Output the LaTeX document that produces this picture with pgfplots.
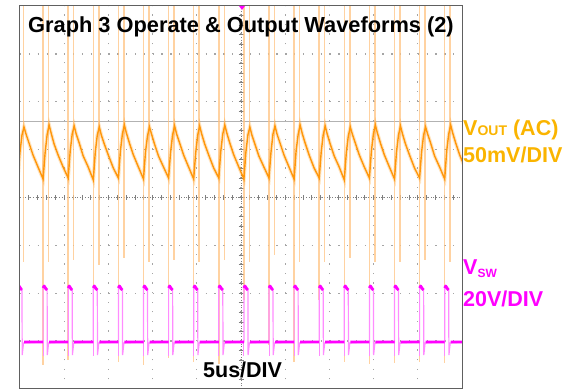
\documentclass[border=0pt]{standalone}
\usepackage{pgfplots}
\pgfplotsset{compat=1.18}
\usepackage{fontspec}
\setmainfont{Liberation Sans}
\definecolor{vout}{RGB}{255,150,10}
\definecolor{spike}{RGB}{255,195,130}
\definecolor{voutlbl}{RGB}{250,180,0}
\definecolor{vsw}{RGB}{255,0,255}
\definecolor{vswfaint}{RGB}{255,140,255}
\definecolor{gridc}{RGB}{165,165,165}
\begin{document}
\begin{tikzpicture}[x=1pt,y=1pt]
\useasboundingbox (-20,-1) rectangle (559,389);
% graticule (behind traces)
\foreach \k in {1,...,9}{
  \draw[gridc, line width=1.3pt, dash pattern=on 1.3pt off 8.275pt] (44.2*\k,0) -- (44.2*\k,383);
}
\foreach \j in {1,...,7}{
  \draw[gridc, line width=1.3pt, dash pattern=on 1.3pt off 7.54pt] (0,47.875*\j) -- (442,47.875*\j);
}
\draw[gray, line width=0.6pt, dash pattern=on 1pt off 1.6pt] (221,0) -- (221,383);
\draw[gray, line width=0.6pt, dash pattern=on 1pt off 1.6pt] (0,191.5) -- (442,191.5);
\foreach \i in {1,...,49}{ \draw[gray, line width=0.7pt] (8.84*\i,189) -- (8.84*\i,194); }
\foreach \i in {1,...,39}{ \draw[gray, line width=0.7pt] (218.5,9.575*\i) -- (223.5,9.575*\i); }
\draw[gray!60, line width=0.7pt] (0,267.5) -- (442,267.5);

\begin{axis}[at={(0,0)}, anchor=south west, scale only axis,
  width=442pt, height=383pt,
  xmin=20, xmax=462, ymin=6, ymax=389, y dir=reverse,
  axis line style={draw=none}, ticks=none, clip=true]
% switching spikes on the output trace
\addplot[ycomb, spike, line width=1.5pt, opacity=0.75, mark=none] coordinates {
 (18.0,360) (43.1,365) (68.2,360) (93.3,350) (118.4,362) (143.5,365) (168.6,358) (193.7,362) (218.8,364)
 (243.9,300) (269.0,345) (294.1,362) (319.2,300) (344.3,362) (369.4,364) (394.5,363) (419.6,362) (444.7,363)};
\addplot[ycomb, spike, line width=1.5pt, opacity=0.75, mark=none] coordinates {
 (23.5,262) (48.6,262) (73.7,260) (98.8,265) (123.9,258) (149.0,262) (174.1,260) (199.2,262) (224.3,260)
 (249.4,262) (274.5,255) (299.6,262) (324.7,262) (349.8,258) (374.9,262) (400.0,262) (425.1,260) (450.2,262)};
% VOUT (AC) ripple, halo and trace
\pgfplotstableread{
x y
10 161
18.0 178
20 152
22 135
24 127
26 134
29 143
33 155
38 167
43.1 179
45.1 153
47.1 135
49.1 125
51.1 133
54.1 144
58.1 155
63.1 167
68.2 178
70.2 151
72.2 134
74.2 126
76.2 134
79.2 143
83.2 156
88.2 167
93.3 180
95.3 152
97.3 135
99.3 127
101.3 135
104.3 144
108.3 155
113.3 168
118.4 178
120.4 151
122.4 134
124.4 125
126.4 133
129.4 143
133.4 155
138.4 167
143.5 179
145.5 152
147.5 136
149.5 127
151.5 134
154.5 144
158.5 156
163.5 167
168.6 178
170.6 152
172.6 135
174.6 126
176.6 134
179.6 143
183.6 155
188.6 167
193.7 179
195.7 153
197.7 135
199.7 126
201.7 134
204.7 144
208.7 155
213.7 168
218.8 178
220.8 151
222.8 134
224.8 125
226.8 133
229.8 143
233.8 155
238.8 167
243.9 179
245.9 152
247.9 135
249.9 127
251.9 135
254.9 144
258.9 156
263.9 167
269.0 178
271.0 152
273.0 134
275.0 126
277.0 134
280.0 143
284.0 155
289.0 167
294.1 179
296.1 151
298.1 135
300.1 125
302.1 133
305.1 143
309.1 155
314.1 168
319.2 178
321.2 152
323.2 135
325.2 126
327.2 134
330.2 144
334.2 156
339.2 167
344.3 180
346.3 153
348.3 136
350.3 127
352.3 134
355.3 143
359.3 155
364.3 167
369.4 178
371.4 151
373.4 134
375.4 125
377.4 133
380.4 143
384.4 155
389.4 167
394.5 179
396.5 152
398.5 135
400.5 126
402.5 134
405.5 144
409.5 155
414.5 168
419.6 178
421.6 152
423.6 135
425.6 127
427.6 134
430.6 143
434.6 156
439.6 167
444.7 179
446.7 151
448.7 134
450.7 125
452.7 133
455.7 143
459.7 155
464.7 167
}\vouttab
\addplot[vout, line width=3.6pt, opacity=0.25, mark=none] table {\vouttab};
\addplot[vout, line width=1.4pt, mark=none] table {\vouttab};
% faint persistence below the switch-node rising edges
\addplot[vswfaint, line width=1pt, mark=none, unbounded coords=jump] coordinates {
 (43.1,340) (43.1,356) (43.1,nan) (68.2,340) (68.2,356) (68.2,nan) (93.3,340) (93.3,356) (93.3,nan)
 (118.4,340) (118.4,356) (118.4,nan) (143.5,340) (143.5,356) (143.5,nan) (168.6,340) (168.6,356) (168.6,nan)
 (193.7,340) (193.7,356) (193.7,nan) (218.8,340) (218.8,356) (218.8,nan) (243.9,340) (243.9,356) (243.9,nan)
 (269.0,340) (269.0,356) (269.0,nan) (294.1,340) (294.1,356) (294.1,nan) (319.2,340) (319.2,356) (319.2,nan)
 (344.3,340) (344.3,356) (344.3,nan) (369.4,340) (369.4,356) (369.4,nan) (394.5,340) (394.5,356) (394.5,nan)
 (419.6,340) (419.6,356) (419.6,nan) (444.7,340) (444.7,356)};
% VSW switch node: thin full path (edges)
\addplot[vswfaint, line width=1.2pt, mark=none] coordinates {
 (10,342)
 (18.0,342) (18.0,288) (22.0,290) (22.2,355) (23.5,343)
 (43.1,342) (43.1,288) (47.1,290) (47.3,355) (48.6,343)
 (68.2,342) (68.2,288) (72.2,290) (72.4,355) (73.7,343)
 (93.3,342) (93.3,288) (97.3,290) (97.5,355) (98.8,343)
 (118.4,342) (118.4,288) (122.4,290) (122.6,355) (123.9,343)
 (143.5,342) (143.5,288) (147.5,290) (147.7,355) (149.0,343)
 (168.6,342) (168.6,288) (172.6,290) (172.8,355) (174.1,343)
 (193.7,342) (193.7,288) (197.7,290) (197.9,355) (199.2,343)
 (218.8,342) (218.8,288) (222.8,290) (223.0,355) (224.3,343)
 (243.9,342) (243.9,288) (247.9,290) (248.1,355) (249.4,343)
 (269.0,342) (269.0,288) (273.0,290) (273.2,355) (274.5,343)
 (294.1,342) (294.1,288) (298.1,290) (298.3,355) (299.6,343)
 (319.2,342) (319.2,288) (323.2,290) (323.4,355) (324.7,343)
 (344.3,342) (344.3,288) (348.3,290) (348.5,355) (349.8,343)
 (369.4,342) (369.4,288) (373.4,290) (373.6,355) (374.9,343)
 (394.5,342) (394.5,288) (398.5,290) (398.7,355) (400.0,343)
 (419.6,342) (419.6,288) (423.6,290) (423.8,355) (425.1,343)
 (444.7,342) (444.7,288) (448.7,290) (448.9,355) (450.2,343)
 (470,342)};
% VSW: bold low level and pulse tops
\addplot[vsw, line width=2.8pt, mark=none, unbounded coords=jump, line join=round] coordinates {
 (10,342) (18.0,342) (18.0,nan)
 (18.0,288) (19.0,286) (21.0,289) (22.0,290) (22.0,nan) (24.0,342) (43.1,342) (43.1,nan)
 (43.1,288) (44.1,286) (46.1,289) (47.1,290) (47.1,nan) (49.1,342) (68.2,342) (68.2,nan)
 (68.2,288) (69.2,286) (71.2,289) (72.2,290) (72.2,nan) (74.2,342) (93.3,342) (93.3,nan)
 (93.3,288) (94.3,286) (96.3,289) (97.3,290) (97.3,nan) (99.3,342) (118.4,342) (118.4,nan)
 (118.4,288) (119.4,286) (121.4,289) (122.4,290) (122.4,nan) (124.4,342) (143.5,342) (143.5,nan)
 (143.5,288) (144.5,286) (146.5,289) (147.5,290) (147.5,nan) (149.5,342) (168.6,342) (168.6,nan)
 (168.6,288) (169.6,286) (171.6,289) (172.6,290) (172.6,nan) (174.6,342) (193.7,342) (193.7,nan)
 (193.7,288) (194.7,286) (196.7,289) (197.7,290) (197.7,nan) (199.7,342) (218.8,342) (218.8,nan)
 (218.8,288) (219.8,286) (221.8,289) (222.8,290) (222.8,nan) (224.8,342) (243.9,342) (243.9,nan)
 (243.9,288) (244.9,286) (246.9,289) (247.9,290) (247.9,nan) (249.9,342) (269.0,342) (269.0,nan)
 (269.0,288) (270.0,286) (272.0,289) (273.0,290) (273.0,nan) (275.0,342) (294.1,342) (294.1,nan)
 (294.1,288) (295.1,286) (297.1,289) (298.1,290) (298.1,nan) (300.1,342) (319.2,342) (319.2,nan)
 (319.2,288) (320.2,286) (322.2,289) (323.2,290) (323.2,nan) (325.2,342) (344.3,342) (344.3,nan)
 (344.3,288) (345.3,286) (347.3,289) (348.3,290) (348.3,nan) (350.3,342) (369.4,342) (369.4,nan)
 (369.4,288) (370.4,286) (372.4,289) (373.4,290) (373.4,nan) (375.4,342) (394.5,342) (394.5,nan)
 (394.5,288) (395.5,286) (397.5,289) (398.5,290) (398.5,nan) (400.5,342) (419.6,342) (419.6,nan)
 (419.6,288) (420.6,286) (422.6,289) (423.6,290) (423.6,nan) (425.6,342) (444.7,342) (444.7,nan)
 (444.7,288) (445.7,286) (447.7,289) (448.7,290) (448.7,nan) (450.7,342) (470,342)};
\end{axis}
\draw[gray!75!black, line width=1pt] (0,0) rectangle (442,383);
\fill[vsw] (219,383) -- (225,383) -- (222,379) -- cycle;
% texts
\node[anchor=base west, inner sep=0, text=black, font=\fontsize{21.8}{22}\selectfont\bfseries] at (8,356) {Graph 3 Operate \& Output Waveforms (2)};
\node[anchor=base west, inner sep=0, text=black, font=\fontsize{21.5}{22}\selectfont\bfseries] at (183,11) {5us/DIV};
\node[anchor=base west, inner sep=0, text=voutlbl, font=\fontsize{21.5}{22}\selectfont\bfseries] at (443,253) {V{\fontsize{14}{14}\selectfont OUT} (AC)};
\node[anchor=base west, inner sep=0, text=voutlbl, font=\fontsize{21.5}{22}\selectfont\bfseries] at (443,226) {50mV/DIV};
\node[anchor=base west, inner sep=0, text=vsw, font=\fontsize{21.5}{22}\selectfont\bfseries] at (443,114) {V\raisebox{-3pt}{\fontsize{12}{12}\selectfont SW}};
\node[anchor=base west, inner sep=0, text=vsw, font=\fontsize{21.5}{22}\selectfont\bfseries] at (443,82) {20V/DIV};
\end{tikzpicture}
\end{document}
